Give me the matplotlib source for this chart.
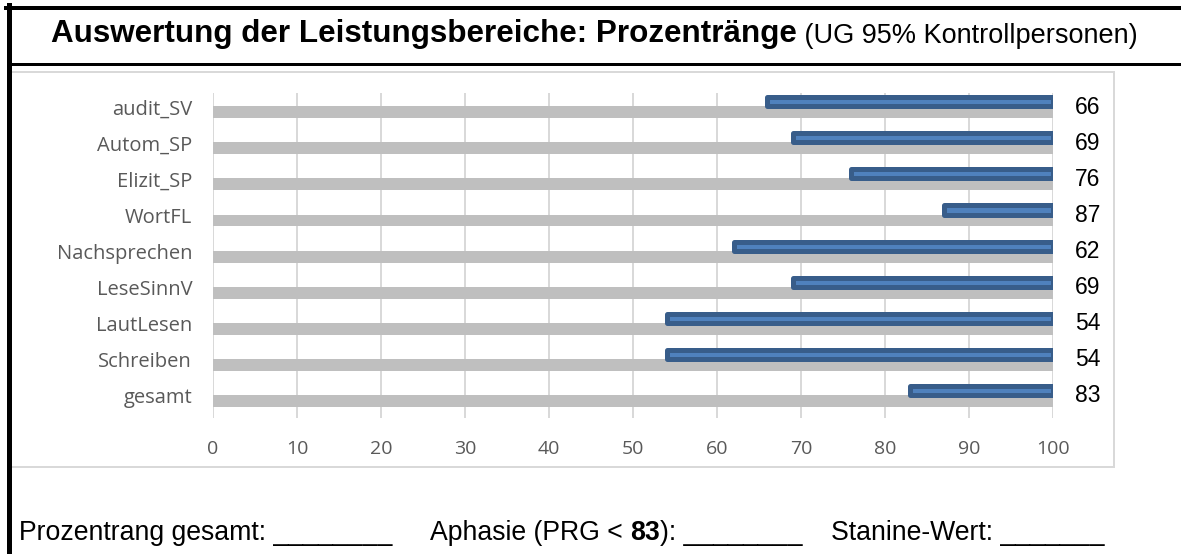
import numpy as np
import matplotlib
matplotlib.use("Agg")
import matplotlib.pyplot as plt
from matplotlib.lines import Line2D
from matplotlib.patches import Rectangle

# data
categories = ["audit_SV", "Autom_SP", "Elizit_SP", "WortFL", "Nachsprechen",
              "LeseSinnV", "LautLesen", "Schreiben", "gesamt"]
prozentrang = [66, 69, 76, 87, 62, 69, 54, 54, 83]
obergrenze = [100, 100, 100, 100, 100, 100, 100, 100, 100]
xticks = [0, 10, 20, 30, 40, 50, 60, 70, 80, 90, 100]

title_bold = "Auswertung der Leistungsbereiche: Prozentränge"
title_sub = "(UG 95% Kontrollpersonen)"

W, H = 1181, 554
DPI = 100
PT = 72 / DPI  # px -> pt

ARIAL = "Liberation Sans"
CALIBRI = "Open Sans"
GREY_TXT = "#595959"
GRID = "#d9d9d9"

fig = plt.figure(figsize=(W / DPI, H / DPI), dpi=DPI)

# background axes in pixel coords for the frame lines
bg = fig.add_axes([0, 0, 1, 1])
bg.set_xlim(0, W)
bg.set_ylim(H, 0)
bg.axis("off")

bg.add_patch(Rectangle((9, 72), 1114 - 9, 467 - 72, fill=False,
                       edgecolor=GRID, lw=2 * PT))
bg.add_line(Line2D([8.5, 8.5], [5, H], color="black", lw=5 * PT))
bg.add_line(Line2D([6, W], [8, 8], color="black", lw=4 * PT))
bg.add_line(Line2D([11, W], [64, 64], color="black", lw=3 * PT))

# chart axes
def frac(x0, y0, x1, y1):
    return [x0 / W, 1 - y1 / H, (x1 - x0) / W, (y1 - y0) / H]

ax = fig.add_axes(frac(213, 93, 1053, 418))
y = np.arange(len(categories))

ax.barh(y + 0.14, obergrenze, height=0.33, color="#bfbfbf", zorder=2)
ax.barh(y - 0.15, np.array(obergrenze) - np.array(prozentrang),
        left=prozentrang, height=0.25, color="#4f81bd",
        edgecolor="#385d8a", linewidth=5 * PT, joinstyle="round", zorder=3)

for yi, v in zip(y, prozentrang):
    ax.annotate(str(v), xy=(100, yi), xytext=(22 * PT, 0),
                textcoords="offset points", va="center", ha="left",
                fontsize=16.5, family=ARIAL, color="black")

ax.set_xlim(0, 100)
ax.set_ylim(8.61, -0.39)
ax.set_xticks(xticks)
ax.set_yticks(y)
ax.set_yticklabels(categories, family=CALIBRI, fontsize=14.5, color=GREY_TXT)
ax.set_xticklabels([str(t) for t in xticks], family=CALIBRI, fontsize=14,
                   color=GREY_TXT)
ax.tick_params(axis="both", length=0)
ax.tick_params(axis="y", pad=15)
ax.tick_params(axis="x", pad=16)
ax.xaxis.grid(True, color=GRID, lw=2 * PT, zorder=0)
ax.set_axisbelow(True)
for s in ax.spines.values():
    s.set_visible(False)
ax.patch.set_alpha(0)

# title
t1 = bg.text(51, 42, title_bold, fontsize=22.6, fontweight="bold",
             family=ARIAL, va="baseline", ha="left")
bg.annotate(" " + title_sub, xy=(1, 0), xycoords=t1, va="bottom", ha="left",
            fontsize=19.5, family=ARIAL)

# footer
fs = 19.2
bg.text(19, 540, "Prozentrang gesamt: ________", fontsize=fs, family=ARIAL,
        va="baseline", ha="left")
a1 = bg.text(430, 540, "Aphasie (PRG < ", fontsize=fs, family=ARIAL,
             va="baseline", ha="left")
a2 = bg.annotate("83", xy=(1, 0), xycoords=a1, va="bottom", ha="left",
                 fontsize=fs, family=ARIAL, fontweight="bold")
bg.annotate("): ________", xy=(1, 0), xycoords=a2, va="bottom", ha="left",
            fontsize=fs, family=ARIAL)
bg.text(831, 540, "Stanine-Wert: _______", fontsize=fs, family=ARIAL,
        va="baseline", ha="left")

fig.savefig("out.png", dpi=DPI)
